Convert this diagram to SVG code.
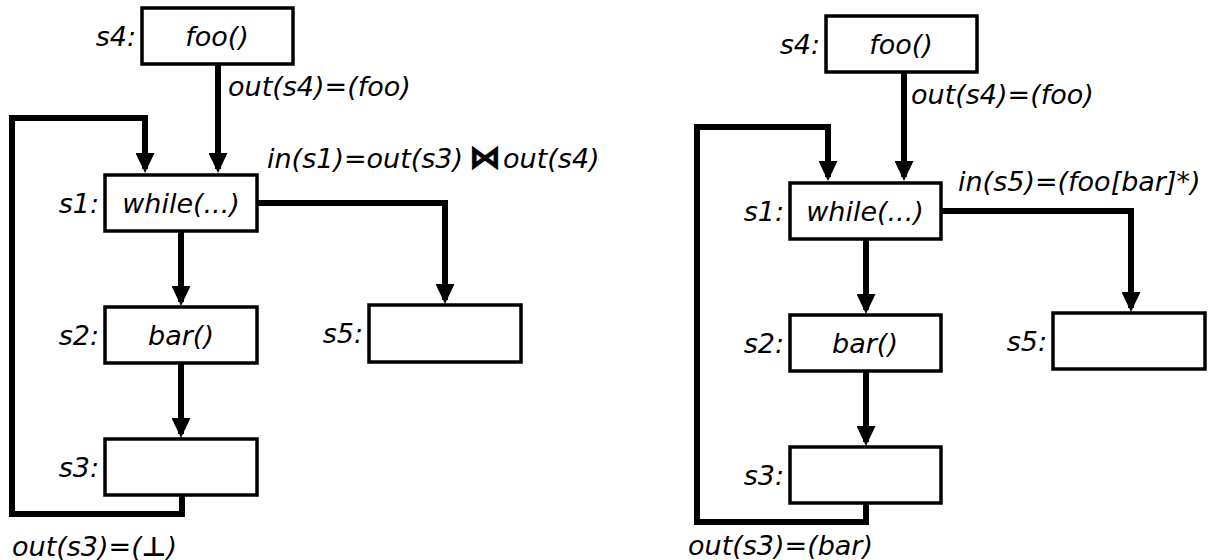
<svg xmlns="http://www.w3.org/2000/svg" width="1210" height="560" viewBox="0 0 1210 560">
  <style>
    text { font-family: "DejaVu Sans", "Liberation Sans", sans-serif; font-style: oblique; font-size: 27px; fill: #000; }
    .node rect { fill: #fff; stroke: #000; stroke-width: 3.5; }
    .mid { text-anchor: middle; }
    .end { text-anchor: end; }
    .edge { fill: none; stroke: #000; stroke-width: 6; marker-end: url(#arrow); }
    .op { font-style: normal; font-weight: bold; }
    .join { font-size: 32px; stroke: #000; stroke-width: 0.8; }
  </style>
  <defs>
    <marker id="arrow" markerUnits="userSpaceOnUse" markerWidth="20" markerHeight="19" refX="16" refY="9.5" orient="auto" viewBox="0 0 20 19">
      <path d="M0,0 L20,9.5 L0,19 z" fill="#000"/>
    </marker>
  </defs>

  <!-- connectors: left flow graph, then right flow graph -->
  <g id="connectors">
    <path class="edge" d="M218,64 V169"/>
    <path class="edge" d="M182,495 V514 H12 V118 H145 V169"/>
    <path class="edge" d="M257,203 H445 V300"/>
    <path class="edge" d="M181,231 V302"/>
    <path class="edge" d="M181,363 V434"/>

    <path class="edge" d="M904,72 V177"/>
    <path class="edge" d="M866,503 V522 H697 V127 H828 V177"/>
    <path class="edge" d="M941,211 H1131 V308"/>
    <path class="edge" d="M866,239 V310"/>
    <path class="edge" d="M866,371 V442"/>
  </g>

  <!-- left graph nodes -->
  <g id="L-s4" class="node">
    <rect x="142" y="8" width="151" height="56"/>
    <text class="end" x="136" y="46">s4:</text>
    <text class="mid" x="217" y="46">foo()</text>
  </g>
  <g id="L-s1" class="node">
    <rect x="105" y="175" width="152" height="56"/>
    <text class="end" x="99" y="213">s1:</text>
    <text class="mid" x="181" y="213">while(...)</text>
  </g>
  <g id="L-s2" class="node">
    <rect x="105" y="307" width="152" height="56"/>
    <text class="end" x="99" y="345">s2:</text>
    <text class="mid" x="181" y="345">bar()</text>
  </g>
  <g id="L-s3" class="node">
    <rect x="105" y="439" width="152" height="56"/>
    <text class="end" x="99" y="477">s3:</text>
  </g>
  <g id="L-s5" class="node">
    <rect x="369" y="305" width="152" height="57"/>
    <text class="end" x="363" y="343">s5:</text>
  </g>

  <!-- right graph nodes -->
  <g id="R-s4" class="node">
    <rect x="826" y="16" width="151" height="56"/>
    <text class="end" x="820" y="54">s4:</text>
    <text class="mid" x="901" y="54">foo()</text>
  </g>
  <g id="R-s1" class="node">
    <rect x="790" y="183" width="151" height="56"/>
    <text class="end" x="784" y="221">s1:</text>
    <text class="mid" x="865" y="221">while(...)</text>
  </g>
  <g id="R-s2" class="node">
    <rect x="790" y="315" width="151" height="56"/>
    <text class="end" x="784" y="353">s2:</text>
    <text class="mid" x="865" y="353">bar()</text>
  </g>
  <g id="R-s3" class="node">
    <rect x="790" y="447" width="151" height="56"/>
    <text class="end" x="784" y="485">s3:</text>
  </g>
  <g id="R-s5" class="node">
    <rect x="1053" y="313" width="152" height="56"/>
    <text class="end" x="1047" y="351">s5:</text>
  </g>

  <!-- dataflow annotations -->
  <g id="labels">
    <text x="228" y="96">out(s4)=(foo)</text>
    <text x="267" y="168">in(s1)=out(s3)<tspan class="op join" dx="6">⋈</tspan><tspan dx="2">out(s4)</tspan></text>
    <text x="12" y="556">out(s3)=(<tspan class="op">⊥</tspan>)</text>
    <text x="911" y="104">out(s4)=(foo)</text>
    <text x="958" y="191">in(s5)=(foo[bar]*)</text>
    <text x="688" y="555">out(s3)=(bar)</text>
  </g>
</svg>
